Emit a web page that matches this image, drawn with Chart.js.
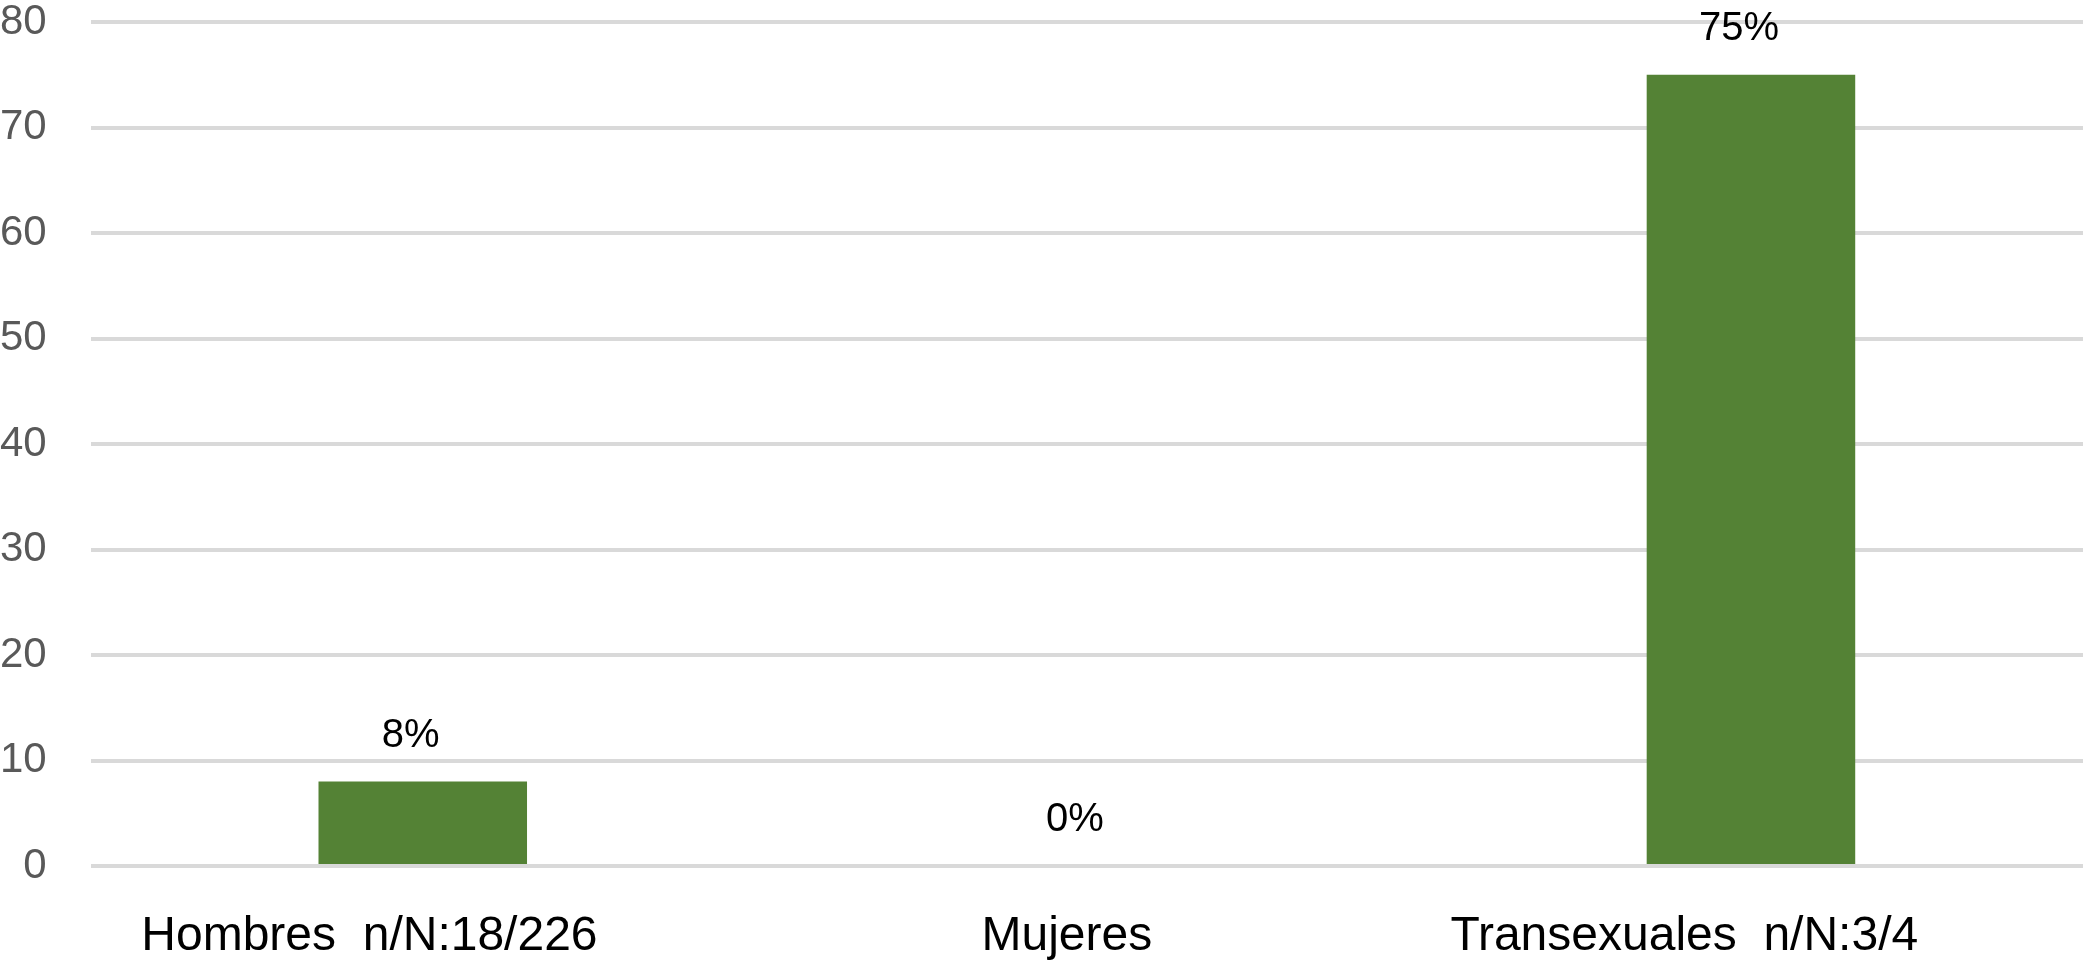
<!DOCTYPE html>
<html>
<head>
<meta charset="utf-8">
<script src="https://cdn.jsdelivr.net/npm/chart.js@4.4.0/dist/chart.umd.min.js"></script>
<style>
  html, body { margin: 0; padding: 0; background: #fff; }
  #wrap { width: 2083px; height: 964px; }
</style>
</head>
<body>
<div id="wrap"><canvas id="grupoChart"></canvas></div>
<script>
const categories = ['Hombres  n/N:18/226', 'Mujeres', 'Transexuales  n/N:3/4'];
const porcentajes = [8, 0, 75];
const yTicks = [0, 10, 20, 30, 40, 50, 60, 70, 80];

// in the original the labels sit a little left of the bar centre (trailing blanks)
const trailingBlanks = [8, 3, 10];

const fontFamily = '"Liberation Sans", Arial, Helvetica, sans-serif';

// Draws the "8%" style labels above each bar
const valueLabels = {
    id: 'valueLabels',
    afterDatasetsDraw(chart) {
        const ctx = chart.ctx;
        const meta = chart.getDatasetMeta(0);
        ctx.save();
        ctx.font = '40px ' + fontFamily;
        ctx.fillStyle = '#000000';
        ctx.textAlign = 'center';
        ctx.textBaseline = 'alphabetic';
        meta.data.forEach((bar, i) => {
            ctx.fillText(porcentajes[i] + '%', bar.x - 12, bar.y - 35);
        });
        ctx.restore();
    }
};

const ctx = document.getElementById('grupoChart').getContext('2d');

new Chart(ctx, {
    type: 'bar',
    data: {
        labels: categories,
        datasets: [{
            label: '%',
            data: porcentajes,
            backgroundColor: '#548235',
            borderWidth: 0,
            barPercentage: 0.314,
            categoryPercentage: 1
        }]
    },
    options: {
        responsive: true,
        maintainAspectRatio: false,
        animation: false,
        layout: {
            padding: { top: 22, right: 0, bottom: 3, left: 0 }
        },
        plugins: {
            legend: { display: false },
            tooltip: { enabled: false }
        },
        scales: {
            x: {
                // tick marks hidden, tickLength only used as label offset
                grid: { display: false, drawTicks: true, tickLength: 47 },
                border: { display: false },
                ticks: {
                    color: '#000000',
                    font: { family: fontFamily, size: 48, lineHeight: 1 },
                    padding: 0,
                    maxRotation: 0,
                    autoSkip: false,
                    callback: function (value, index) {
                        return categories[index] + ' '.repeat(trailingBlanks[index]);
                    }
                }
            },
            y: {
                min: 0,
                max: 80,
                afterBuildTicks: axis => {
                    axis.ticks = yTicks.map(v => ({ value: v }));
                },
                grid: {
                    color: '#d9d9d9',
                    lineWidth: 4,
                    drawTicks: true,
                    tickLength: 44,
                    tickColor: 'rgba(0,0,0,0)'
                },
                border: { display: false },
                ticks: {
                    color: '#595959',
                    font: { family: fontFamily, size: 42, lineHeight: 1 },
                    padding: 0
                }
            }
        }
    },
    plugins: [valueLabels]
});
</script>
</body>
</html>
